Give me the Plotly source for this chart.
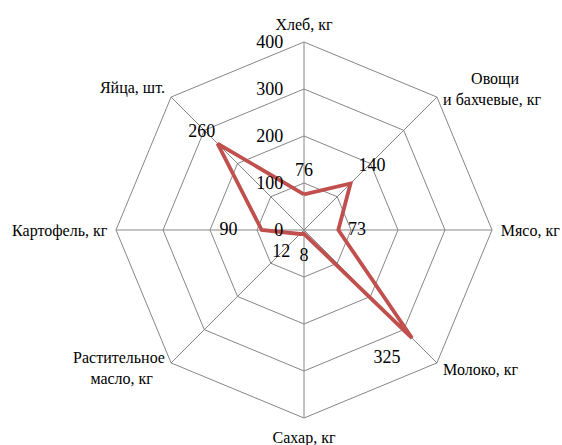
import plotly.graph_objects as go

categories = ["Хлеб, кг", "Овощи<br>и бахчевые, кг", "Мясо, кг", "Молоко, кг",
              "Сахар, кг", "Растительное<br>масло, кг", "Картофель, кг", "Яйца, шт."]
values = [76, 140, 73, 325, 8, 12, 90, 260]
radial_ticks = [0, 100, 200, 300, 400]

# label placement (style only)
label_positions = ["top center", "top right", "middle right", "bottom left",
                   "bottom center", "bottom left", "middle left", "top left"]
label_offsets = [20, 11, 14, 17, 20, 14, 37, 2]

EN = "\u2002"
BL = "<br> "  # invisible extra line, used to nudge angular labels
tick_text = ["Хлеб, кг",
             "<br> " * 3 + EN * 3 + "Овощи<br>и бахчевые, кг",
             "Мясо, кг",
             "Молоко, кг" + BL * 3,
             "Сахар, кг",
             "Растительное<br>масло, кг\u2002\u2005" + BL * 6,
             "Картофель, кг",
             "Яйца, шт."]

r = values + [values[0]]
theta = categories + [categories[0]]

fig = go.Figure()
fig.add_trace(go.Scatterpolar(
    r=r, theta=theta, mode="lines",
    line=dict(color="#C0504D", width=3.8),
    hoverinfo="skip", showlegend=False,
))
fig.add_trace(go.Scatterpolar(
    r=values, theta=categories, mode="markers+text",
    marker=dict(size=label_offsets, opacity=0),
    text=[str(v) for v in values], textposition=label_positions,
    textfont=dict(family="Liberation Serif", size=18, color="#000000"),
    hoverinfo="skip", showlegend=False,
))

W, H = 562, 445
cx, cy, R = 304, 230, 188
fig.update_layout(
    width=W, height=H,
    margin=dict(l=0, r=0, t=0, b=0),
    paper_bgcolor="white", plot_bgcolor="white",
    font=dict(family="Liberation Serif", size=16, color="#000000"),
    polar=dict(
        domain=dict(x=[(cx - R) / W, (cx + R) / W],
                    y=[(H - cy - R) / H, (H - cy + R) / H]),
        bgcolor="white",
        gridshape="linear",
        angularaxis=dict(
            rotation=90, direction="clockwise",
            showline=True, linecolor="#868686", linewidth=1,
            showgrid=True, gridcolor="#868686", gridwidth=1,
            tickmode="array", tickvals=categories, ticktext=tick_text,
            ticks="outside", ticklen=5, tickcolor="rgba(0,0,0,0)",
            tickfont=dict(family="Liberation Serif", size=16),
        ),
        radialaxis=dict(
            range=[0, 400], tickvals=radial_ticks,
            angle=90, tickangle=90, side="counterclockwise",
            showline=False, showgrid=True, gridcolor="#868686", gridwidth=1,
            ticks="outside", ticklen=14, tickcolor="rgba(0,0,0,0)",
            tickfont=dict(family="Liberation Serif", size=18),
        ),
    ),
)
fig.write_html("out.html", config={"displayModeBar": False},
               post_script="document.body.style.margin='0';")
